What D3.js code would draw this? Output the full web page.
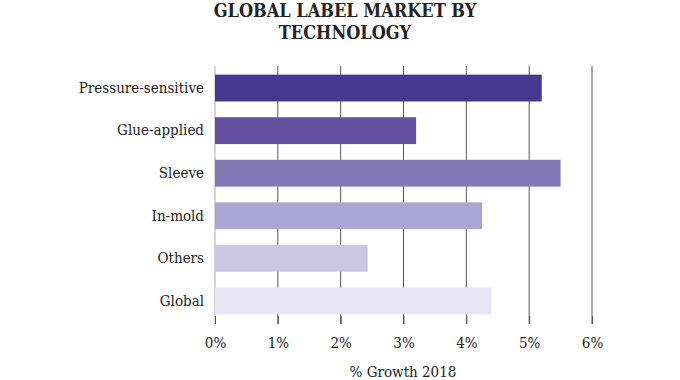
<!DOCTYPE html>
<html><head><meta charset="utf-8">
<script src="https://cdn.jsdelivr.net/npm/d3@7"></script>
<style>body{margin:0;background:#fff}svg{display:block}</style>
</head><body>
<svg id="c" width="680" height="380"></svg>
<script>
const categories = ["Pressure-sensitive","Glue-applied","Sleeve","In-mold","Others","Global"];
const values = [5.2, 3.2, 5.5, 4.25, 2.43, 4.4];
const colors = ["#463790","#6452a0","#857ab8","#aba5d3","#cbc6e3","#e8e6f5"];
const ticks = [0,1,2,3,4,5,6];
const titleLines = ["GLOBAL LABEL MARKET BY","TECHNOLOGY"];
const xTitle = "% Growth 2018";

const svg = d3.select("#c");
const font = "'DejaVu Serif Condensed','DejaVu Serif',serif";
const x = d3.scaleLinear().domain([0,6]).range([215,592]);
const y = d3.scaleBand().domain(categories).range([64,325]).paddingInner(0.37).paddingOuter(0.25);

// gridlines
svg.append("g").selectAll("line").data(ticks).join("line")
  .attr("x1",d=>x(d)).attr("x2",d=>x(d)).attr("y1",66).attr("y2",324)
  .attr("stroke",d=>d===0?"#aaa":"#555").attr("stroke-width",1);

svg.append("g").selectAll("rect").data(categories).join("rect")
  .attr("x",x(0)).attr("y",d=>y(d)).attr("height",y.bandwidth())
  .attr("width",(d,i)=>x(values[i])-x(0)).attr("fill",(d,i)=>colors[i]);

// x axis
const xa = svg.append("g").attr("transform","translate(0,316)")
  .call(d3.axisBottom(x).tickValues(ticks).tickFormat(d=>d+"%").tickSize(8).tickPadding(13));
xa.select(".domain").remove();
xa.selectAll("line").attr("stroke","#555");
xa.selectAll("text").attr("font-family",font).attr("font-size",15).attr("fill","#222");

// y axis labels
const ya = svg.append("g").attr("transform","translate(215,0)")
  .call(d3.axisLeft(y).tickSize(0).tickPadding(11));
ya.select(".domain").remove();
ya.selectAll("text").attr("font-family",font).attr("font-size",15).attr("fill","#222");

svg.append("text").attr("x",403).attr("y",377).attr("text-anchor","middle")
  .attr("font-family",font).attr("font-size",15).attr("fill","#222").text(xTitle);

svg.append("g").selectAll("text").data(titleLines).join("text")
  .attr("x",345).attr("y",(d,i)=>17+i*22).attr("text-anchor","middle")
  .attr("font-family",font).attr("font-weight","bold").attr("font-size",18).attr("fill","#222")
  .text(d=>d);
</script>
</body></html>
